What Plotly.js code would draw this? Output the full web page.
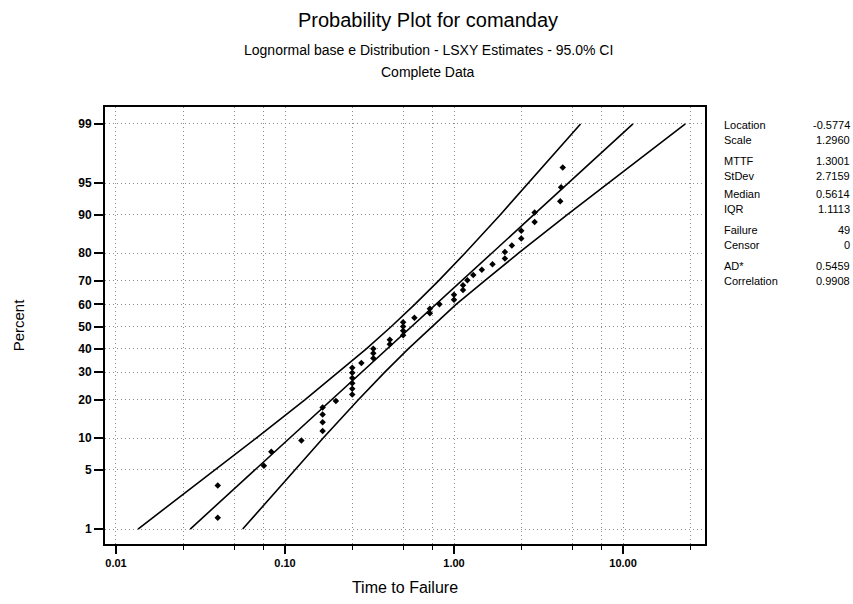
<!DOCTYPE html>
<html><head><meta charset="utf-8">
<script src="https://cdn.plot.ly/plotly-3.0.1.min.js"></script>
<style>html,body{margin:0;padding:0;background:#fff}#chart{width:853px;height:604px}</style>
</head><body><div id="chart"></div>
<script>
// ---- data ----
const failureTimes = [0.04,0.04,0.075,0.083,0.125,0.167,0.167,0.167,0.167,0.2,
  0.25,0.25,0.25,0.25,0.25,0.25,0.283,0.333,0.333,0.333,
  0.417,0.417,0.5,0.5,0.5,0.5,0.583,0.72,0.72,0.82,
  1.0,1.0,1.13,1.13,1.2,1.3,1.46,1.69,2.0,2.0,
  2.2,2.5,2.5,3.0,3.0,4.25,4.3,4.4];
const failurePercents = [1.4,3.4,5.5,7.5,9.5,11.5,13.6,15.6,17.6,19.6,
  21.7,23.7,25.7,27.7,29.8,31.8,33.8,35.8,37.9,39.9,
  41.9,43.9,46.0,48.0,50.0,52.0,54.0,56.1,58.1,60.1,
  62.1,64.2,66.2,68.2,70.2,72.3,74.3,76.3,78.3,80.4,
  82.4,84.4,86.4,88.5,90.5,92.5,94.5,96.6];
const linePercents = [1,2,5,10,20,30,40,50,60,70,80,90,95,98,99];
const fitTimes = [0.0275,0.0392,0.0666,0.1066,0.1886,0.2845,0.4043,0.5613,0.7793,1.108,1.671,2.955,4.732,8.036,11.45];
const upperCITimes = [0.0135,0.0206,0.0388,0.0676,0.1310,0.2079,0.3040,0.4257,0.5859,0.8094,1.160,1.874,2.754,4.225,5.605];
const lowerCITimes = [0.0562,0.0746,0.1144,0.1682,0.2717,0.3894,0.5378,0.7400,1.0285,1.516,2.406,4.663,8.133,15.30,23.37];
const percentTicks = [1,5,10,20,30,40,50,60,70,80,90,95,99];
const timeTicks = [0.01,0.1,1,10];
const timeTickLabels = ['0.01','0.10','1.00','10.00'];
const timeMinorTicks = [0.025,0.05,0.075,0.25,0.5,0.75,2.5,5,7.5,25];
const statLabels = ['Location','Scale','MTTF','StDev','Median','IQR','Failure','Censor','AD*','Correlation'];
const statValues = ['-0.5774','1.2960','1.3001','2.7159','0.5614','1.1113','49','0','0.5459','0.9908'];

// probability scale: inverse standard normal CDF (Acklam)
function probit(p){
  const a=[-39.69683028665376,220.9460984245205,-275.9285104469687,138.3577518672690,-30.66479806614716,2.506628277459239];
  const b=[-54.47609879822406,161.5858368580409,-155.6989798598866,66.80131188771972,-13.28068155288572];
  const c=[-0.007784894002430293,-0.3223964580411365,-2.400758277161838,-2.549732539343734,4.374664141464968,2.938163982698783];
  const d=[0.007784695709041462,0.3224671290700398,2.445134137142996,3.754408661907416];
  const pl=0.02425, ph=1-pl; let q,r;
  if(p<pl){q=Math.sqrt(-2*Math.log(p));return (((((c[0]*q+c[1])*q+c[2])*q+c[3])*q+c[4])*q+c[5])/((((d[0]*q+d[1])*q+d[2])*q+d[3])*q+1);}
  if(p<=ph){q=p-0.5;r=q*q;return (((((a[0]*r+a[1])*r+a[2])*r+a[3])*r+a[4])*r+a[5])*q/(((((b[0]*r+b[1])*r+b[2])*r+b[3])*r+b[4])*r+1);}
  q=Math.sqrt(-2*Math.log(1-p));return -(((((c[0]*q+c[1])*q+c[2])*q+c[3])*q+c[4])*q+c[5])/((((d[0]*q+d[1])*q+d[2])*q+d[3])*q+1);
}
const z = arr => arr.map(v => probit(v/100));

const lineStyle = {color:'#000', width:1.6};
const traces = [
  {x:upperCITimes, y:z(linePercents), mode:'lines', line:lineStyle, hoverinfo:'skip', showlegend:false},
  {x:fitTimes, y:z(linePercents), mode:'lines', line:lineStyle, hoverinfo:'skip', showlegend:false},
  {x:lowerCITimes, y:z(linePercents), mode:'lines', line:lineStyle, hoverinfo:'skip', showlegend:false},
  {x:failureTimes, y:z(failurePercents), mode:'markers', marker:{color:'#000', size:5, symbol:'diamond'}, showlegend:false}
];

const L=105, R=705, T=107, B=544;
const px2x = p => (p-L)/(R-L);
const py2y = p => (B-p)/(B-T);
const statRows = [125,140,161,176,194,209,230,245,266,281];
const FONT = 'Liberation Sans, Arial, sans-serif';
const statFont = {family:FONT, size:11, color:'#000'};
const annotations = [];
statLabels.forEach((s,i)=>{
  annotations.push({text:s, xref:'paper', yref:'paper', x:px2x(722), y:py2y(statRows[i]), xanchor:'left', yanchor:'middle', showarrow:false, font:statFont});
  annotations.push({text:statValues[i], xref:'paper', yref:'paper', x:px2x(852), y:py2y(statRows[i]), xanchor:'right', yanchor:'middle', showarrow:false, font:statFont});
});
annotations.push({text:'Lognormal base e Distribution - LSXY Estimates - 95.0% CI', xref:'paper', yref:'paper', x:px2x(428), y:py2y(50), xanchor:'center', yanchor:'middle', showarrow:false, font:{family:FONT, size:14, color:'#000'}});
annotations.push({text:'Complete Data', xref:'paper', yref:'paper', x:px2x(428), y:py2y(72), xanchor:'center', yanchor:'middle', showarrow:false, font:{family:FONT, size:14, color:'#000'}});

const gridCommon = {showgrid:true, gridcolor:'#8c8c8c', griddash:'1px,3px', gridwidth:1};
const layout = {
  width:853, height:604,
  margin:{l:L, r:853-R, t:T, b:604-B, autoexpand:false},
  paper_bgcolor:'#fff', plot_bgcolor:'#fff',
  title:{text:'Probability Plot for comanday', x:428/853, xanchor:'center', y:1-20/604, yanchor:'middle', yref:'container', font:{family:FONT, size:20, color:'#000'}},
  xaxis:Object.assign({
    type:'log', range:[-2.065, 1.485], tickmode:'array', tickvals:timeTicks, ticktext:timeTickLabels,
    ticks:'outside', ticklen:8, tickwidth:2, tickcolor:'#000',
    showline:true, linewidth:2, linecolor:'#000', mirror:true, zeroline:false,
    tickfont:{family:FONT, size:11, color:'#000', weight:'bold'},
    minor:{tickmode:'array', tickvals:timeMinorTicks, ticks:'outside', ticklen:4, tickwidth:1, tickcolor:'#000', showgrid:true, gridcolor:'#8c8c8c', griddash:'1px,3px', gridwidth:1},
    title:{text:'Time to Failure', standoff:14, font:{family:FONT, size:16, color:'#000'}}
  }, gridCommon),
  yaxis:Object.assign({
    range:[-2.498, 2.521], tickmode:'array', tickvals:z(percentTicks), ticktext:percentTicks.map(String),
    ticks:'outside', ticklen:9, tickwidth:2, tickcolor:'#000',
    showline:true, linewidth:2, linecolor:'#000', mirror:true, zeroline:false,
    tickfont:{family:FONT, size:12, color:'#000', weight:'bold'},
    title:{text:'Percent', standoff:50, font:{family:FONT, size:15, color:'#000'}}
  }, gridCommon),
  annotations:annotations
};
Plotly.newPlot('chart', traces, layout, {displayModeBar:false, staticPlot:true});
</script></body></html>
